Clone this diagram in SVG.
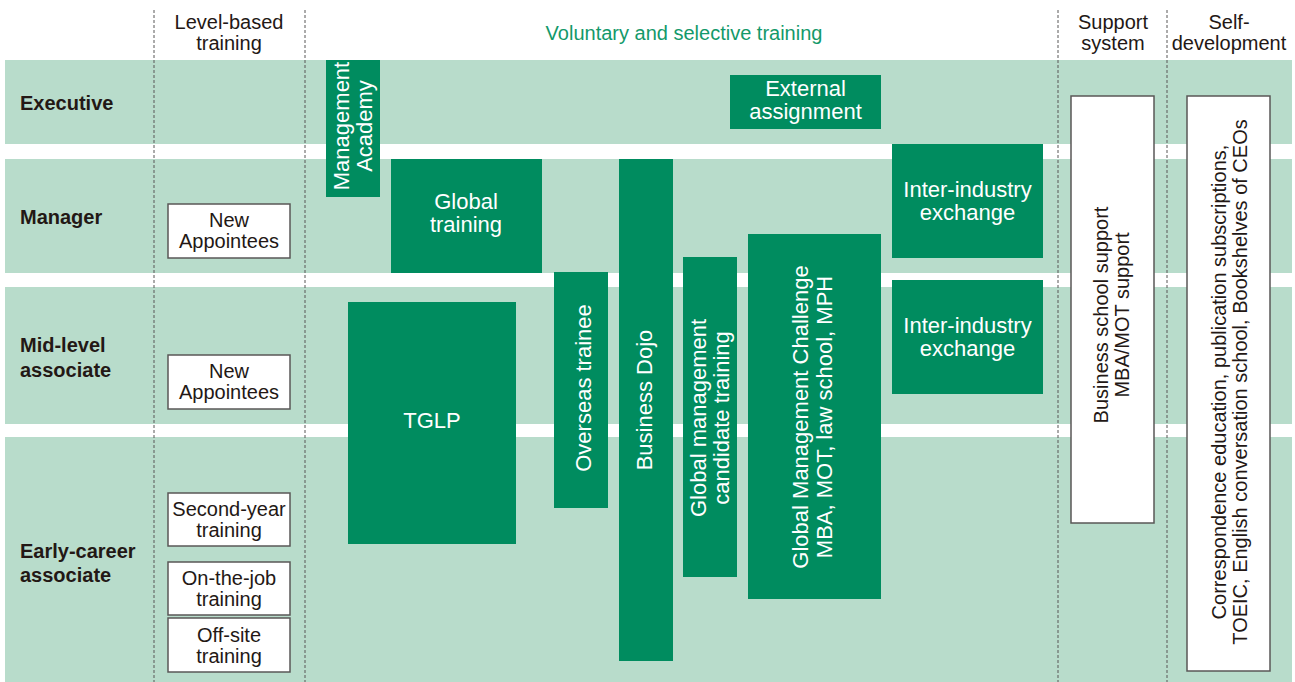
<svg xmlns="http://www.w3.org/2000/svg" width="1295" height="682" viewBox="0 0 1295 682">
<style>
text{font-family:"Liberation Sans",Arial,sans-serif}
.band{fill:#b8dccb}
.dash{stroke:#595757;stroke-width:1;stroke-dasharray:3 2;fill:none}
.gbox{fill:#008c5f}
.wbox{fill:#ffffff;stroke:#595757;stroke-width:1.5}
.lbl{font-size:20px;fill:#231815;text-anchor:middle}
.row{font-size:20px;font-weight:bold;fill:#231815}
.wt{font-size:22px;fill:#ffffff;text-anchor:middle}
.ttl{font-size:20px;fill:#13996a;text-anchor:middle}
</style>
<g id="bands">
<rect class="band" x="5" y="60" width="1287" height="84"/>
<rect class="band" x="5" y="159" width="1287" height="114"/>
<rect class="band" x="5" y="287" width="1287" height="137"/>
<rect class="band" x="5" y="437" width="1287" height="245"/>
</g>
<g id="dividers">
<line class="dash" x1="154" y1="10" x2="154" y2="682"/>
<line class="dash" x1="305" y1="10" x2="305" y2="682"/>
<line class="dash" x1="1058" y1="10" x2="1058" y2="682"/>
<line class="dash" x1="1167" y1="10" x2="1167" y2="682"/>
</g>
<g id="headers">
<text class="lbl" x="229" y="29">Level-based</text>
<text class="lbl" x="229" y="50">training</text>
<text class="ttl" x="684" y="40">Voluntary and selective training</text>
<text class="lbl" x="1113" y="29">Support</text>
<text class="lbl" x="1113" y="50">system</text>
<text class="lbl" x="1229" y="29">Self-</text>
<text class="lbl" x="1229" y="50">development</text>
</g>
<g id="row-labels">
<text class="row" x="20" y="110">Executive</text>
<text class="row" x="20" y="224">Manager</text>
<text class="row" x="20" y="352">Mid-level</text>
<text class="row" x="20" y="377">associate</text>
<text class="row" x="20" y="558">Early-career</text>
<text class="row" x="20" y="582">associate</text>
</g>
<g id="new-appointees-manager">
<rect class="wbox" x="168" y="204" width="122" height="54"/>
<text class="lbl" x="229" y="227">New</text>
<text class="lbl" x="229" y="248">Appointees</text>
</g>
<g id="new-appointees-mid">
<rect class="wbox" x="168" y="355" width="122" height="54"/>
<text class="lbl" x="229" y="378">New</text>
<text class="lbl" x="229" y="399">Appointees</text>
</g>
<g id="second-year">
<rect class="wbox" x="168" y="493" width="122" height="53"/>
<text class="lbl" x="229" y="516">Second-year</text>
<text class="lbl" x="229" y="537">training</text>
</g>
<g id="on-the-job">
<rect class="wbox" x="168" y="562" width="122" height="53"/>
<text class="lbl" x="229" y="585">On-the-job</text>
<text class="lbl" x="229" y="606">training</text>
</g>
<g id="off-site">
<rect class="wbox" x="168" y="618" width="122" height="54"/>
<text class="lbl" x="229" y="642">Off-site</text>
<text class="lbl" x="229" y="663">training</text>
</g>
<g id="management-academy">
<rect class="gbox" x="326" y="60" width="54" height="137"/>
<text class="wt" transform="translate(349 126) rotate(-90)">Management</text>
<text class="wt" transform="translate(372 126) rotate(-90)">Academy</text>
</g>
<g id="global-training">
<rect class="gbox" x="391" y="159" width="151" height="114"/>
<text class="wt" x="466" y="209">Global</text>
<text class="wt" x="466" y="232">training</text>
</g>
<g id="tglp">
<rect class="gbox" x="348" y="302" width="168" height="242"/>
<text class="wt" x="432" y="428">TGLP</text>
</g>
<g id="overseas-trainee">
<rect class="gbox" x="554" y="272" width="54" height="236"/>
<text class="wt" transform="translate(591 388) rotate(-90)">Overseas trainee</text>
</g>
<g id="business-dojo">
<rect class="gbox" x="619" y="159" width="54" height="502"/>
<text class="wt" transform="translate(652 400) rotate(-90)">Business Dojo</text>
</g>
<g id="global-management-candidate">
<rect class="gbox" x="683" y="257" width="54" height="320"/>
<text class="wt" transform="translate(706 418) rotate(-90)">Global management</text>
<text class="wt" transform="translate(729 418) rotate(-90)">candidate training</text>
</g>
<g id="global-management-challenge">
<rect class="gbox" x="748" y="234" width="133" height="365"/>
<text class="wt" transform="translate(808 417) rotate(-90)">Global Management Challenge</text>
<text class="wt" transform="translate(832 417) rotate(-90)">MBA, MOT, law school, MPH</text>
</g>
<g id="external-assignment">
<rect class="gbox" x="730" y="75" width="151" height="54"/>
<text class="wt" x="805.5" y="96">External</text>
<text class="wt" x="805.5" y="119">assignment</text>
</g>
<g id="inter-industry-manager">
<rect class="gbox" x="892" y="144" width="151" height="114"/>
<text class="wt" x="967.5" y="197">Inter-industry</text>
<text class="wt" x="967.5" y="220">exchange</text>
</g>
<g id="inter-industry-mid">
<rect class="gbox" x="892" y="280" width="151" height="114"/>
<text class="wt" x="967.5" y="333">Inter-industry</text>
<text class="wt" x="967.5" y="356">exchange</text>
</g>
<g id="support-system">
<rect class="wbox" x="1071" y="96" width="83" height="427"/>
<text class="lbl" transform="translate(1108 315) rotate(-90)">Business school support</text>
<text class="lbl" transform="translate(1129 315) rotate(-90)">MBA/MOT support</text>
</g>
<g id="self-development">
<rect class="wbox" x="1187" y="96" width="83" height="575"/>
<text class="lbl" transform="translate(1226 382) rotate(-90)">Correspondence education, publication subscriptions,</text>
<text class="lbl" transform="translate(1247 382) rotate(-90)">TOEIC, English conversation school, Bookshelves of CEOs</text>
</g>
<g id="connectors"></g>
</svg>
